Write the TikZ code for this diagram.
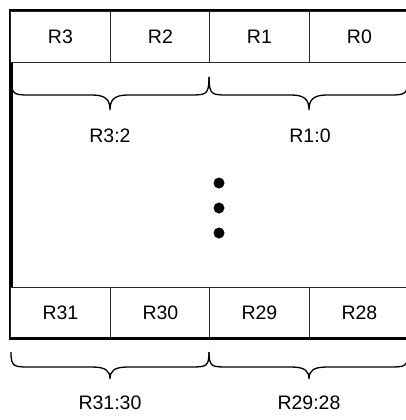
\documentclass[tikz,border=0pt]{standalone}
\usepackage{fontspec}
\setmainfont{Liberation Sans}
\begin{document}
\begin{tikzpicture}[x=1pt,y=-1pt,
  cell/.style={draw=black!85,line width=0.9pt,fill=white,minimum width=100pt,minimum height=51pt,inner sep=0pt,anchor=north west,font=\fontsize{19.5}{22}\selectfont},
  frame/.style={line width=4pt},
  brace/.style={line width=1.3pt},
  lbl/.style={font=\fontsize{19.5}{22}\selectfont,inner sep=0pt},
  dot/.style={circle,fill=black,minimum size=11pt,inner sep=0pt}]
\useasboundingbox (0,0) rectangle (406,420);
\clip (0,0) rectangle (406,420);
\draw[frame] (10.5,11.5) rectangle (410,338);
% top row
\node[cell] (r3) at (10,11) {R3};
\node[cell] (r2) at (110,11) {R2};
\node[cell] (r1) at (209,11) {R1};
\node[cell] (r0) at (309,11) {R0};
% bottom row
\node[cell] (r31) at (10,287) {R31};
\node[cell] (r30) at (110,287) {R30};
\node[cell] (r29) at (209,287) {R29};
\node[cell] (r28) at (309,287) {R28};
\draw[line width=2.8pt] (8.6,338.5) -- (410,338.5);
% braces top
\draw[brace] (11,77) .. controls (11,95) and (14,95) .. (30,95) -- (92,95) .. controls (106,95) and (110,100) .. (110,110)
  .. controls (110,100) and (114,95) .. (128,95) -- (190,95) .. controls (206,95) and (209,95) .. (209,77);
\draw[brace] (209,77) .. controls (209,95) and (212,95) .. (228,95) -- (291,95) .. controls (305,95) and (309,100) .. (309,110)
  .. controls (309,100) and (313,95) .. (327,95) -- (389,95) .. controls (405,95) and (408,95) .. (408,77);
% braces bottom
\draw[brace] (11,352) .. controls (11,367) and (14,367) .. (30,367) -- (92,367) .. controls (106,367) and (110,371) .. (110,379)
  .. controls (110,371) and (114,367) .. (128,367) -- (190,367) .. controls (206,367) and (209,367) .. (209,352);
\draw[brace] (209,352) .. controls (209,367) and (212,367) .. (228,367) -- (291,367) .. controls (305,367) and (309,371) .. (309,379)
  .. controls (309,371) and (313,367) .. (327,367) -- (389,367) .. controls (405,367) and (408,367) .. (408,352);
% labels
\node[lbl] (l32) at (110,136) {R3:2};
\node[lbl] (l10) at (310,136) {R1:0};
\node[lbl] (l3130) at (110,403) {R31:30};
\node[lbl] (l2928) at (309,403) {R29:28};
% dots
\node[dot] (d1) at (219,183) {};
\node[dot] (d2) at (219,208) {};
\node[dot] (d3) at (219,233) {};
\end{tikzpicture}
\end{document}
